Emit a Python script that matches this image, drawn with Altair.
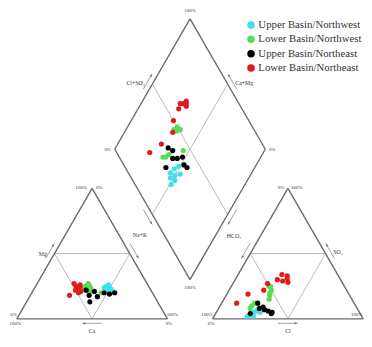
import altair as alt
import numpy as np
import pandas as pd

GAP = 0.3
H3 = np.sqrt(3) / 2

group_names = ["Upper Basin/Northwest", "Lower Basin/Northwest",
               "Upper Basin/Northeast", "Lower Basin/Northeast"]
group_colors = ["#40e0e8", "#55dd55", "#000000", "#e3191c"]

# meq%: Na+K and Mg (cations), HCO3 and SO4 (anions)
ubnw_nak = [46, 48, 50, 52, 47, 53, 51, 49]
ubnw_mg = [24, 26, 22, 20, 25, 21, 23, 24]
ubnw_hco3 = [72, 74, 70, 72, 68, 66, 76, 64]
ubnw_so4 = [4, 3, 5, 2, 6, 5, 2, 7]

lbnw_nak = [33, 35, 34, 36, 37, 35, 46, 38, 32]
lbnw_mg = [25, 23, 27, 22, 24, 26, 20, 21, 24]
lbnw_hco3 = [50, 50, 52, 49, 69, 71, 55, 66, 53]
lbnw_so4 = [22, 25, 20, 25, 10, 8, 15, 12, 18]

ubne_nak = [35, 39, 42, 48, 41, 52, 45, 55]
ubne_mg = [22, 18, 13, 20, 21, 19, 17, 20]
ubne_hco3 = [64, 62, 65, 58, 73, 60, 62, 59]
ubne_so4 = [12, 9, 8, 5, 4, 6, 7, 4]

lbne_nak = [30, 28, 29, 31, 27, 28, 32, 29, 24.5, 26]
lbne_mg = [24, 22, 26, 20, 25, 23, 21, 24, 27, 18]
lbne_hco3 = [35, 37, 34, 36, 42, 50, 55, 67, 78, 39]
lbne_so4 = [31, 34, 33, 28, 30, 27, 22, 19, 12, 29]

series = [
    (group_names[0], ubnw_nak, ubnw_mg, ubnw_hco3, ubnw_so4),
    (group_names[1], lbnw_nak, lbnw_mg, lbnw_hco3, lbnw_so4),
    (group_names[2], ubne_nak, ubne_mg, ubne_hco3, ubne_so4),
    (group_names[3], lbne_nak, lbne_mg, lbne_hco3, lbne_so4),
]

rows = []
for name, nak, mg, hco3, so4 in series:
    for n, m, h, s in zip(nak, mg, hco3, so4):
        cl = 100 - h - s
        # cation triangle
        rows.append({"group": name, "x": (n + m / 2) / 100, "y": m / 100 * H3})
        # anion triangle
        rows.append({"group": name, "x": 1 + GAP + (cl + s / 2) / 100, "y": s / 100 * H3})
        # diamond
        rows.append({"group": name, "x": 1 + GAP / 2 + (n - h) / 200,
                     "y": H3 * (2 + GAP - n / 100 - h / 100)})
pts = pd.DataFrame(rows)

# frame geometry
L0, L1, LA = (0, 0), (1, 0), (0.5, H3)
R0, R1, RA = (1 + GAP, 0), (2 + GAP, 0), (1.5 + GAP, H3)
DB = (1 + GAP / 2, GAP * H3)
DT = (1 + GAP / 2, (2 + GAP) * H3)
DL = (0.5 + GAP / 2, (1 + GAP) * H3)
DR = (1.5 + GAP / 2, (1 + GAP) * H3)

def mid(a, b):
    return ((a[0] + b[0]) / 2, (a[1] + b[1]) / 2)

outer = [(L0, L1), (L1, LA), (LA, L0), (R0, R1), (R1, RA), (RA, R0),
         (DB, DL), (DL, DT), (DT, DR), (DR, DB)]
inner = [(mid(L0, LA), mid(L1, LA)), (mid(L0, LA), mid(L0, L1)), (mid(L1, LA), mid(L0, L1)),
         (mid(R0, RA), mid(R1, RA)), (mid(R0, RA), mid(R0, R1)), (mid(R1, RA), mid(R0, R1)),
         (mid(DL, DT), mid(DB, DR)), (mid(DT, DR), mid(DL, DB))]
seg_o = pd.DataFrame([{"x": a[0], "y": a[1], "x2": b[0], "y2": b[1]} for a, b in outer])
seg_i = pd.DataFrame([{"x": a[0], "y": a[1], "x2": b[0], "y2": b[1]} for a, b in inner])

def arrow(a, b, normal, ang, off=0.035, length=0.115):
    m = mid(a, b)
    dx, dy = b[0] - a[0], b[1] - a[1]
    ln = np.hypot(dx, dy)
    dx, dy = dx / ln, dy / ln
    cx, cy = m[0] + normal[0] * off, m[1] + normal[1] * off
    return (cx, cy, dx, dy, ang, length)

arrows = {
    "clso4": arrow(DL, DT, (-H3, 0.5), 30),
    "camg": arrow(DR, DT, (H3, 0.5), 330),
    "nak": arrow(DL, DB, (-H3, -0.5), 150),
    "hco3": arrow(DR, DB, (H3, -0.5), 210),
    "mg": arrow(L0, LA, (-H3, 0.5), 30),
    "lright": arrow(LA, L1, (H3, 0.5), 150),
    "so4": arrow(R1, RA, (H3, 0.5), 330),
    "rleft": arrow(RA, R0, (-H3, 0.5), 210),
}
base_arrows = [((0.5, -0.03), -1, 270), ((1.8, -0.03), 1, 90)]

shafts, heads = [], []
for cx, cy, dx, dy, ang, ln in arrows.values():
    shafts.append({"x": cx - dx * ln / 2, "y": cy - dy * ln / 2,
                   "x2": cx + dx * ln / 2, "y2": cy + dy * ln / 2})
    heads.append({"x": cx + dx * (ln / 2 - 0.012), "y": cy + dy * (ln / 2 - 0.012), "ang": ang})
for (cx, cy), sgn, ang in base_arrows:
    ln = 0.13
    shafts.append({"x": cx - ln / 2, "y": cy, "x2": cx + ln / 2, "y2": cy})
    heads.append({"x": cx + sgn * (ln / 2 - 0.012), "y": cy, "ang": ang})
shafts = pd.DataFrame(shafts)
heads = pd.DataFrame(heads)

# text labels
pct_labels = [
    ("100%", DT[0], DT[1] + 0.06, "center"),
    ("0%", DL[0] - 0.025, DL[1], "right"),
    ("0%", DR[0] + 0.025, DR[1], "left"),
    ("100%", DB[0], DB[1] - 0.05, "center"),
    ("100%", LA[0] - 0.035, LA[1] + 0.012, "right"),
    ("0%", LA[0] + 0.025, LA[1] + 0.012, "left"),
    ("0%", L0[0], 0.035, "right"),
    ("100%", L0[0] - 0.01, -0.025, "center"),
    ("100%", L1[0] - 0.005, 0.035, "left"),
    ("0%", L1[0] + 0.01, -0.025, "center"),
    ("0%", RA[0] - 0.025, RA[1] + 0.012, "right"),
    ("100%", RA[0] + 0.02, RA[1] + 0.012, "left"),
    ("100%", R0[0], 0.035, "right"),
    ("0%", R0[0] - 0.01, -0.025, "center"),
    ("100%", R1[0] - 0.006, 0.035, "right"),
]
a = arrows
ax_labels = [
    ("Cl+SO₄", a["clso4"][0] - 0.02, a["clso4"][1] - 0.012, "right"),
    ("Ca+Mg", a["camg"][0] + 0.02, a["camg"][1] - 0.012, "left"),
    ("Na+K", 0.818, 0.558, "center"),
    ("HCO₃", 1.442, 0.552, "center"),
    ("Mg", a["mg"][0] - 0.02, a["mg"][1] - 0.02, "right"),
    ("SO₄", a["so4"][0] + 0.02, a["so4"][1] - 0.005, "left"),
    ("Ca", 0.5, -0.08, "center"),
    ("Cl", 1.8, -0.08, "center"),
]
pct_df = pd.DataFrame(pct_labels, columns=["t", "x", "y", "al"])
ax_df = pd.DataFrame(ax_labels, columns=["t", "x", "y", "al"])

S = 154.0
W, H = 364, 339
xmin = -9 / S
xmax = xmin + W / S
ymax = 314 / S
ymin = ymax - H / S
xs = alt.Scale(domain=[xmin, xmax], nice=False, zero=False)
ys = alt.Scale(domain=[ymin, ymax], nice=False, zero=False)
X = alt.X("x:Q", scale=xs, axis=None)
Y = alt.Y("y:Q", scale=ys, axis=None)

SERIF = "Liberation Serif"

layers = []
layers.append(alt.Chart(seg_i).mark_rule(color="#a8a8a8", strokeWidth=0.8).encode(
    x=X, y=Y, x2="x2:Q", y2="y2:Q"))
layers.append(alt.Chart(seg_o).mark_rule(color="#6a6a6a", strokeWidth=1.4).encode(
    x=X, y=Y, x2="x2:Q", y2="y2:Q"))
layers.append(alt.Chart(shafts).mark_rule(color="#777777", strokeWidth=0.7).encode(
    x=X, y=Y, x2="x2:Q", y2="y2:Q"))
layers.append(alt.Chart(heads).mark_point(shape="triangle-up", filled=True, color="#777777",
                                          size=8, opacity=1).encode(
    x=X, y=Y, angle=alt.Angle("ang:Q", scale=None)))
layers.append(alt.Chart(pts).mark_circle(size=28, opacity=1).encode(
    x=X, y=Y,
    color=alt.Color("group:N", sort=group_names,
                    scale=alt.Scale(domain=group_names, range=group_colors),
                    legend=alt.Legend(orient="none", legendX=243, legendY=8, title=None,
                                      symbolType="circle", symbolSize=60,
                                      symbolStrokeWidth=0, labelFont=SERIF,
                                      labelFontSize=11, labelColor="#333333",
                                      rowPadding=2.7, padding=0, labelLimit=0,
                                      labelOffset=2))))
for al in ["left", "center", "right"]:
    sub = pct_df[pct_df.al == al]
    layers.append(alt.Chart(sub).mark_text(align=al, baseline="middle", fontSize=5,
                                           font=SERIF, color="#333333").encode(
        x=X, y=Y, text="t:N"))
    sub2 = ax_df[ax_df.al == al]
    layers.append(alt.Chart(sub2).mark_text(align=al, baseline="middle", fontSize=6,
                                            font=SERIF, color="#333333").encode(
        x=X, y=Y, text="t:N"))

chart = alt.layer(*layers).properties(
    width=W, height=H, autosize=alt.AutoSizeParams(type="none"), padding=0,
    background="white"
).configure_view(stroke=None)

chart.save("out.html", embed_options={"renderer": "svg", "actions": False})
